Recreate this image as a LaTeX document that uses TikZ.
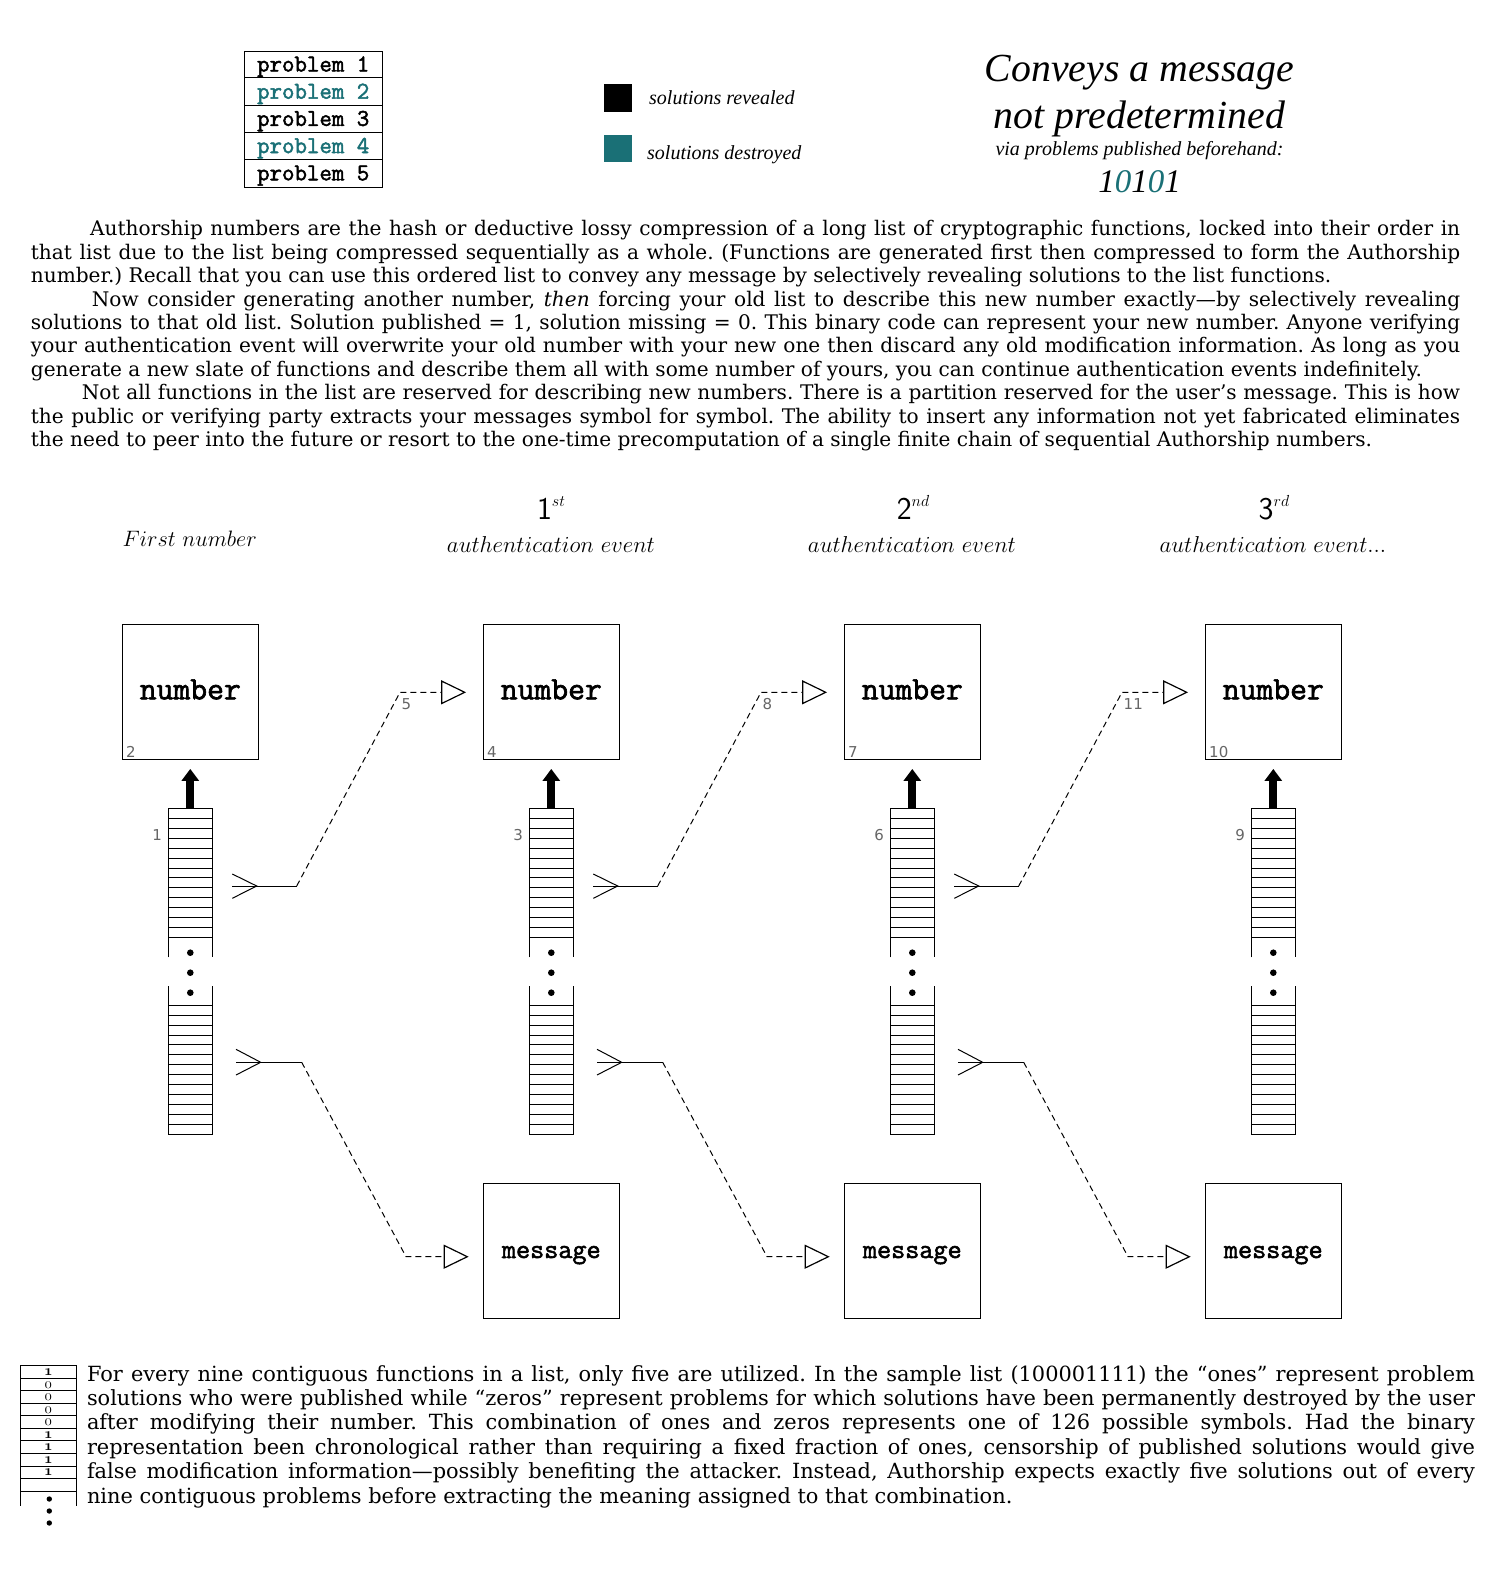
\documentclass[tikz,border=0pt]{standalone}
\usepackage{fix-cm}
\usepackage{fontspec}
\usetikzlibrary{arrows.meta}
\newfontfamily\bodyfont{DejaVu Serif}
\newfontfamily\ttlfont{Liberation Serif}
\newfontfamily\lblfont{DejaVu Sans}
\newfontfamily\cmono[FakeBold=2]{Latin Modern Mono}
\definecolor{tealc}{RGB}{26,112,118}
\begin{document}
\begin{tikzpicture}[x=1pt,y=-1pt,
  box/.style={draw,line width=1.2pt,minimum width=136pt,minimum height=135pt,inner sep=0pt},
  numf/.style={font=\cmono\fontsize{32.7}{34}\selectfont,inner sep=0pt,anchor=base},
  msgf/.style={font=\cmono\fontsize{27.4}{29}\selectfont,inner sep=0pt,anchor=base},
  lbl/.style={font=\lblfont\fontsize{15}{15}\selectfont,text=black!60,inner sep=0pt},
  stk/.style={line width=1pt},
  conn/.style={line width=1pt},
  dline/.style={line width=1pt,dash pattern=on 6pt off 4pt},
  opentip/.style={-{Triangle[open,length=25pt,width=24pt,line width=1.2pt]}},
  bigarrow/.style={line width=8pt,-{Triangle[length=12pt,width=17pt]}},
  ptxt/.style={font=\cmono\fontsize{24.2}{25}\selectfont,inner sep=0pt,anchor=base},
  legf/.style={font=\ttlfont\itshape\fontsize{20}{22}\selectfont,inner sep=0pt,anchor=base west},
  hdr/.style={font=\fontsize{23}{25}\selectfont,inner sep=0pt,anchor=base},
  ordf/.style={font=\sffamily\fontsize{31.7}{33}\selectfont,inner sep=0pt,anchor=base},
  para/.style={inner sep=0pt,anchor=north west,align=justify},
]
\fill[white] (0,0) rectangle (1493,1582);
\useasboundingbox (0,0) rectangle (1493,1582);

% problem list
\node[draw,line width=1.1pt,minimum width=137.7pt,minimum height=136pt,inner sep=0pt,anchor=north west] (plist) at (244.3,50.7) {};
\foreach \k in {1,...,4} \draw[line width=1pt] (244.3,{50.7+27.2*\k}) -- (382,{50.7+27.2*\k});
\node[ptxt] (p1) at (313.2,71.5) {problem 1};
\node[ptxt,text=tealc] (p2) at (313.2,98.7) {problem 2};
\node[ptxt] (p3) at (313.2,125.9) {problem 3};
\node[ptxt,text=tealc] (p4) at (313.2,153.1) {problem 4};
\node[ptxt] (p5) at (313.2,180.3) {problem 5};

% legend
\fill[black] (604,84.3) rectangle (631.7,111.7);
\fill[tealc] (604,135) rectangle (631.7,162);
\node[legf] (lg1) at (649,104) {solutions revealed};
\node[legf] (lg2) at (647,159) {solutions destroyed};

% title
\node[font=\ttlfont\itshape\fontsize{39.8}{42}\selectfont,inner sep=0pt,anchor=base] (t1) at (1139.5,81.7) {Conveys a message};
\node[font=\ttlfont\itshape\fontsize{39.8}{42}\selectfont,inner sep=0pt,anchor=base] (t2) at (1139.5,128) {not predetermined};
\node[font=\ttlfont\itshape\fontsize{20}{22}\selectfont,inner sep=0pt,anchor=base] (t3) at (1139.5,155) {via problems published beforehand:};
\node[font=\ttlfont\itshape\fontsize{33}{35}\selectfont,inner sep=0pt,anchor=base] (t4) at (1139.5,192) {1\textcolor{tealc}{0}1\textcolor{tealc}{0}1};

% main paragraph
\node[para,text width=1429.3pt,font=\bodyfont\fontsize{20.1}{23.4}\selectfont] (body) at (30.7,219.3) {\frenchspacing\hyphenpenalty=10000\exhyphenpenalty=10000\strut\hspace*{59.3pt}Authorship numbers are the hash or deductive lossy compression of a long list of cryptographic functions, locked into their order in\linebreak
that list due to the list being compressed sequentially as a whole. (Functions are generated first then compressed to form the Authorship\linebreak
number.) Recall that you can use this ordered list to convey any message by selectively revealing solutions to the list functions.\par
\hspace*{61pt}Now consider generating another number, \textit{then} forcing your old list to describe this new number exactly—by selectively revealing\linebreak
solutions to that old list. Solution published = 1, solution missing = 0. This binary code can represent your new number. Anyone verifying\linebreak
your authentication event will overwrite your old number with your new one then discard any old modification information. As long as you\linebreak
generate a new slate of functions and describe them all with some number of yours, you can continue authentication events indefinitely.\par
\hspace*{51pt}Not all functions in the list are reserved for describing new numbers. There is a partition reserved for the user’s message. This is how\linebreak
the public or verifying party extracts your messages symbol for symbol. The ability to insert any information not yet fabricated eliminates\linebreak
the need to peer into the future or resort to the one-time precomputation of a single finite chain of sequential Authorship numbers.};

% headers
\node[hdr,font=\fontsize{22.3}{24}\selectfont] (h0) at (189.7,546) {$First\ number$};
\node[ordf] (o1) at (551,519.3) {1\raisebox{13pt}{\fontsize{16}{16}\selectfont$st$}};
\node[ordf] (o2) at (913,519.3) {2\raisebox{13pt}{\fontsize{16}{16}\selectfont$nd$}};
\node[ordf] (o3) at (1274,519.3) {3\raisebox{13pt}{\fontsize{16}{16}\selectfont$rd$}};
\node[hdr] (h1) at (551,552) {$authentication\ event$};
\node[hdr] (h2) at (912,552) {$authentication\ event$};
\node[hdr] (h3) at (1273,552) {$authentication\ event...$};

% columns
\foreach \c/\bl/\sl in {0/2/1,1/4/3,2/7/6,3/10/9} {
  \begin{scope}[shift={(361*\c,0)}]
    \node[box] (num\c) at (190.3,691.8) {};
    \node[numf] (nt\c) at (190.3,699.3) {number};
    \node[lbl,anchor=base west] (nl\c) at (126,757.5) {\bl};
    \node[minimum width=44pt,minimum height=326pt,inner sep=0pt] (stk\c) at (190.3,971.3) {};
    \draw[stk] (168.3,957.3) -- (168.3,808.3) -- (212.3,808.3) -- (212.3,957.3);
    \foreach \k in {1,...,13} \draw[stk] (168.3,{808.3+9.95*\k}) -- (212.3,{808.3+9.95*\k});
    \draw[stk] (168.3,986) -- (168.3,1134.3) -- (212.3,1134.3) -- (212.3,986);
    \foreach \k in {0,...,12} \draw[stk] (168.3,{1005.3+9.92*\k}) -- (212.3,{1005.3+9.92*\k});
    \foreach \yy in {952.7,972.7,992.7} \fill (190.3,\yy) circle[radius=3.3pt];
    \node[lbl,anchor=base east] (sl\c) at (162,840.5) {\sl};
    \draw[bigarrow,shorten >=9pt] (stk\c.north) -- (num\c.south);
  \end{scope}
}
\foreach \c in {1,2,3} {
  \node[box] (msg\c) at ({190.3+361*\c},1250.8) {};
  \node[msgf] (mt\c) at ({190.3+361*\c},1258) {message};
}

% connectors
\foreach \c/\n/\cl in {0/1/5,1/2/8,2/3/11} {
  \begin{scope}[shift={(361*\c,0)}]
    \coordinate (ta\c) at (256.7,886);
    \coordinate (ts\c) at (232.3,886);
    \coordinate (ca\c) at (296.7,886);
    \coordinate (cb\c) at (400,692.3);
    \draw[conn] (232.3,874) -- (ta\c) -- (232.3,898.3);
    \draw[conn] (ts\c) -- (ca\c);
    \node[lbl,anchor=north west] (cl\c) at (401.5,698) {\cl};
    \coordinate (tb\c) at (260.7,1062.3);
    \coordinate (tt\c) at (236,1062.3);
    \coordinate (cc\c) at (301.7,1062.3);
    \coordinate (cd\c) at (406,1256.7);
    \draw[conn] (236,1049.3) -- (tb\c) -- (236,1075);
    \draw[conn] (tt\c) -- (cc\c);
  \end{scope}
  \draw[dline,opentip,shorten >=16.6pt] (ca\c) -- (cb\c) -- (num\n.west |- cb\c);
  \draw[dline,opentip,shorten >=14pt] (cc\c) -- (cd\c) -- (msg\n.west |- cd\c);
}

% bottom small list
\draw[line width=0.9pt] (20.7,1505.7) -- (20.7,1365.7) -- (76,1365.7) -- (76,1505.7);
\foreach \k in {1,...,10} \draw[line width=0.9pt] (20.7,{1365.7+12.53*\k}) -- (76,{1365.7+12.53*\k});
\foreach \k/\d in {1/1,2/0,3/0,4/0,5/0,6/1,7/1,8/1,9/1} {
  \node[inner sep=0pt,anchor=base] (bd\k) at (48.4,{1365.7+12.53*\k-2.5}) {\ifnum\d=1 {\fontsize{15}{15}\usefont{OML}{cmm}{b}{it}1}\else{\fontsize{15}{15}\usefont{OML}{cmm}{m}{it}0}\fi};
}
\foreach \yy in {1499,1511,1523} \fill (49.3,\yy) circle[radius=2.7pt];

% bottom paragraph
\node[para,text width=1388pt,font=\bodyfont\fontsize{20.9}{24.4}\selectfont] (foot) at (86.8,1363.9) {\frenchspacing\hyphenpenalty=10000\exhyphenpenalty=10000\strut For every nine contiguous functions in a list, only five are utilized. In the sample list (100001111) the “ones” represent problem\linebreak
solutions who were published while “zeros” represent problems for which solutions have been permanently destroyed by the user\linebreak
after modifying their number. This combination of ones and zeros represents one of 126 possible symbols. Had the binary\linebreak
representation been chronological rather than requiring a fixed fraction of ones, censorship of published solutions would give\linebreak
false modification information—possibly benefiting the attacker. Instead, Authorship expects exactly five solutions out of every\linebreak
nine contiguous problems before extracting the meaning assigned to that combination.};
\end{tikzpicture}
\end{document}
